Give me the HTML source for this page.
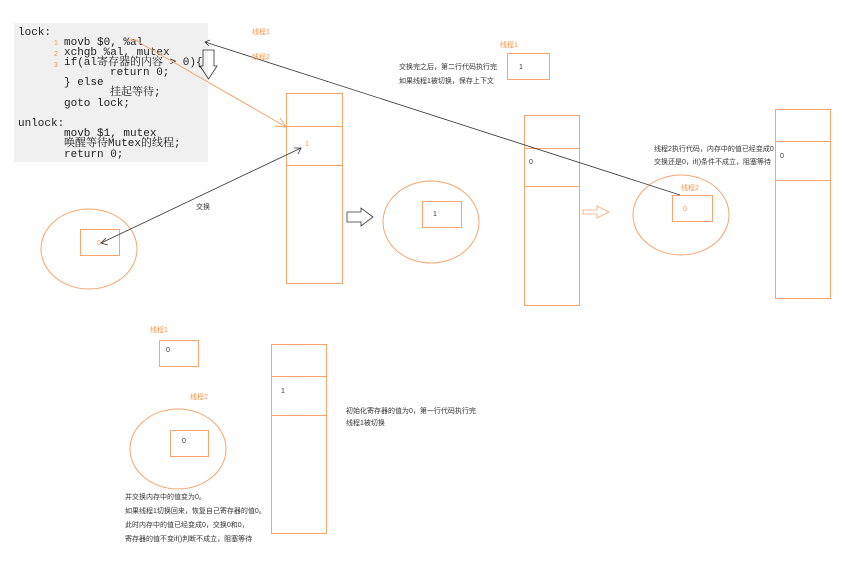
<!DOCTYPE html>
<html><head><meta charset="utf-8"><style>
body{margin:0;width:846px;height:579px;background:#fff;position:relative;overflow:hidden;font-family:"Liberation Sans","Noto Sans CJK SC",sans-serif}
.code{position:absolute;left:14px;top:23px;width:194px;height:139px;background:#f0f0f0}
.c{position:absolute;font-family:"Liberation Mono","Noto Serif CJK SC",monospace;font-size:11px;line-height:11px;height:11px;color:#222;white-space:nowrap}
.t{position:absolute;font-size:7px;color:#333;white-space:nowrap;line-height:9px}
.o{color:#f79646}
</style></head><body>
<div class="code"></div>
<div class="c" style="left:18px;top:28px">lock:</div>
<div class="c" style="left:64px;top:38px">movb $0, %al</div>
<div class="c" style="left:64px;top:48px">xchgb %al, mutex</div>
<div class="c" style="left:64px;top:58px">if(al寄存器的内容 &gt; 0){</div>
<div class="c" style="left:110px;top:68px">return 0;</div>
<div class="c" style="left:64px;top:78px">} else</div>
<div class="c" style="left:110px;top:88px">挂起等待;</div>
<div class="c" style="left:64px;top:99px">goto lock;</div>
<div class="c" style="left:18px;top:119px">unlock:</div>
<div class="c" style="left:64px;top:129px">movb $1, mutex</div>
<div class="c" style="left:64px;top:139px">唤醒等待Mutex的线程;</div>
<div class="c" style="left:64px;top:150px">return 0;</div>
<svg width="846" height="579" style="position:absolute;left:0;top:0">
<g fill="none" stroke="#f7a56c" stroke-width="1">
<rect x="286.5" y="93.5" width="56" height="190"/><line x1="286" y1="126.5" x2="342" y2="126.5"/><line x1="286" y1="165.5" x2="342" y2="165.5"/>
<ellipse cx="89" cy="249" rx="48" ry="40"/><rect x="80.5" y="229.5" width="39" height="26"/>
<ellipse cx="431" cy="222" rx="48" ry="41"/><rect x="422.5" y="201.5" width="39" height="26"/>
<rect x="524.5" y="115.5" width="55" height="190"/><line x1="524" y1="148.5" x2="579" y2="148.5"/><line x1="524" y1="186.5" x2="579" y2="186.5"/>
<ellipse cx="681" cy="215" rx="48" ry="40"/><rect x="672.5" y="195.5" width="40" height="26"/>
<rect x="775.5" y="109.5" width="55" height="189"/><line x1="775" y1="141.5" x2="830" y2="141.5"/><line x1="775" y1="180.5" x2="830" y2="180.5"/>
<rect x="507.5" y="53.5" width="42" height="26"/>
<rect x="159.5" y="340.5" width="39" height="26"/>
<ellipse cx="178" cy="449" rx="48" ry="40"/><rect x="170.5" y="430.5" width="38" height="26"/>
<rect x="271.5" y="344.5" width="55" height="189"/><line x1="271" y1="376.5" x2="326" y2="376.5"/><line x1="271" y1="415.5" x2="326" y2="415.5"/>
<line x1="135" y1="40" x2="286" y2="127"/><polyline points="275,126 286,127 280,118"/>
<line x1="128" y1="40" x2="137" y2="40"/>
</g>
<g fill="none" stroke="#333" stroke-width="0.8">
<line x1="205" y1="42" x2="680" y2="195"/><polyline points="210,40 205,42 209,46"/>
<line x1="101" y1="243" x2="301" y2="148"/><polyline points="294,148 301,148 298,154"/><polyline points="106,238 101,243 108,245"/>
<polygon points="203,50 214,50 214,66 217,66 208.5,79 200,66 203,66"/>
<polygon points="347,212 361,212 361,208 373,217 361,226 361,222 347,222"/>
</g>
<polygon points="583,210 597,210 597,206 609,212 597,218 597,214 583,214" fill="none" stroke="#f7a56c" stroke-width="0.8"/>
</svg>
<div class="t o" style="left:252px;top:28px">线程1</div>
<div class="t o" style="left:252px;top:53px">线程2</div>
<div class="t o" style="left:54px;top:39px">1</div>
<div class="t o" style="left:54px;top:50px">2</div>
<div class="t o" style="left:54px;top:61px">3</div>
<div class="t o" style="left:305px;top:140px">1</div>
<div class="t o" style="left:97px;top:239px">0</div>
<div class="t" style="left:196px;top:203px">交换</div>
<div class="t" style="left:433px;top:210px">1</div>
<div class="t o" style="left:500px;top:41px">线程1</div>
<div class="t" style="left:519px;top:63px">1</div>
<div class="t" style="left:399px;top:63px">交换完之后，第二行代码执行完</div>
<div class="t" style="left:399px;top:77px">如果线程1被切换，保存上下文</div>
<div class="t" style="left:529px;top:158px">0</div>
<div class="t" style="left:654px;top:145px">线程2执行代码，内存中的值已经变成0</div>
<div class="t" style="left:654px;top:158px">交换还是0，if()条件不成立，阻塞等待</div>
<div class="t o" style="left:681px;top:184px">线程2</div>
<div class="t o" style="left:683px;top:205px">0</div>
<div class="t" style="left:780px;top:152px">0</div>
<div class="t o" style="left:150px;top:326px">线程1</div>
<div class="t" style="left:166px;top:346px">0</div>
<div class="t o" style="left:190px;top:393px">线程2</div>
<div class="t" style="left:182px;top:437px">0</div>
<div class="t" style="left:281px;top:387px">1</div>
<div class="t" style="left:346px;top:407px">初始化寄存器的值为0，第一行代码执行完</div>
<div class="t" style="left:346px;top:419px">线程1被切换</div>
<div class="t" style="left:125px;top:493px">并交换内存中的值变为0。</div>
<div class="t" style="left:125px;top:507px">如果线程1切换回来，恢复自己寄存器的值0。</div>
<div class="t" style="left:125px;top:521px">此时内存中的值已经变成0，交换0和0，</div>
<div class="t" style="left:125px;top:535px">寄存器的值不变if()判断不成立，阻塞等待</div>
</body></html>
